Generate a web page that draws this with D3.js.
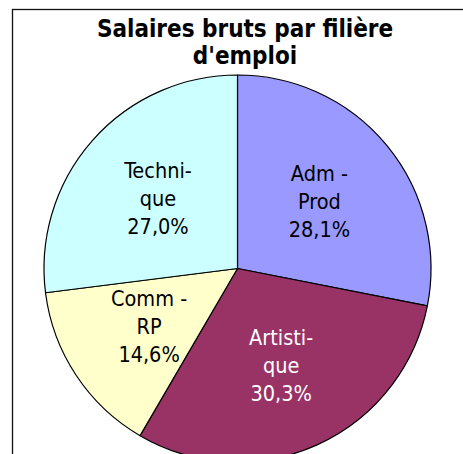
<!DOCTYPE html>
<html>
<head>
<meta charset="utf-8">
<script src="https://cdn.jsdelivr.net/npm/d3@7"></script>
<style>
	html, body { margin: 0; padding: 0; background: #fff; }
	svg { display: block; }
</style>
</head>
<body>
<svg id="chart"></svg>
<script>
const categories = ['Adm - Prod', 'Artistique', 'Comm - RP', 'Technique'];
const labelLines = [['Adm -', 'Prod'], ['Artisti-', 'que'], ['Comm -', 'RP'], ['Techni-', 'que']];
const values = [28.1, 30.3, 14.6, 27.0];
const colors = ['#9999ff', '#993366', '#ffffcc', '#ccffff'];
const textColors = ['#000', '#fff', '#000', '#000'];
const titleLines = ['Salaires bruts par filière', 'd\'emploi'];

const width = 463;
const height = 454;
const cx = 237.5;
const cy = 268.5;
const radius = 193.5;
const lineH = 28;
const font = '"DejaVu Sans Condensed", "DejaVu Sans", sans-serif';

let svg = d3.select('#chart')
	.attr('width', width)
	.attr('height', height);

// chart area frame, cut by the window on the right and bottom
svg.append('rect')
	.attr('x', 12.5)
	.attr('y', 9.5)
	.attr('width', 600)
	.attr('height', 600)
	.attr('fill', '#fff')
	.attr('stroke', '#111')
	.attr('stroke-width', 1.3);

let title = svg.append('text')
	.attr('text-anchor', 'middle')
	.attr('font-family', font)
	.attr('font-stretch', 'condensed')
	.attr('font-weight', 'bold')
	.attr('font-size', 24)
	.attr('fill', '#000');
titleLines.forEach((t, i) => {
	title.append('tspan')
		.attr('x', 245)
		.attr('y', 37 + i * 27)
		.text(t);
});

let slices = categories.map((c, i) => ({
	name: c,
	value: values[i],
	lines: labelLines[i],
	color: colors[i],
	text: textColors[i],
}));

let pie = d3.pie()
	.sort(null)
	.value(d => d.value);

let arc = d3.arc()
	.innerRadius(0)
	.outerRadius(radius);

let labelArc = d3.arc()
	.innerRadius(106)
	.outerRadius(106);

let g = svg.append('g')
	.attr('transform', `translate(${cx},${cy})`);

g.selectAll('path')
	.data(pie(slices))
	.join('path')
	.attr('d', arc)
	.attr('fill', d => d.data.color)
	.attr('stroke', '#000')
	.attr('stroke-width', 1.2)
	.attr('stroke-linejoin', 'round');

let fmt = v => d3.format('.1f')(v).replace('.', ',') + '%';

g.selectAll('text.lbl')
	.data(pie(slices))
	.join('text')
	.attr('class', 'lbl')
	.attr('text-anchor', 'middle')
	.attr('font-family', font)
	.attr('font-stretch', 'condensed')
	.attr('font-size', 21.5)
	.attr('fill', d => d.data.text)
	.each(function(d) {
		let [x, y] = labelArc.centroid(d);
		let lines = d.data.lines.concat([fmt(d.data.value)]);
		let t = d3.select(this);
		lines.forEach((l, i) => {
			t.append('tspan')
				.attr('x', x)
				.attr('y', y + (i - 1) * lineH + 7.5)
				.text(l);
		});
	});
</script>
</body>
</html>
